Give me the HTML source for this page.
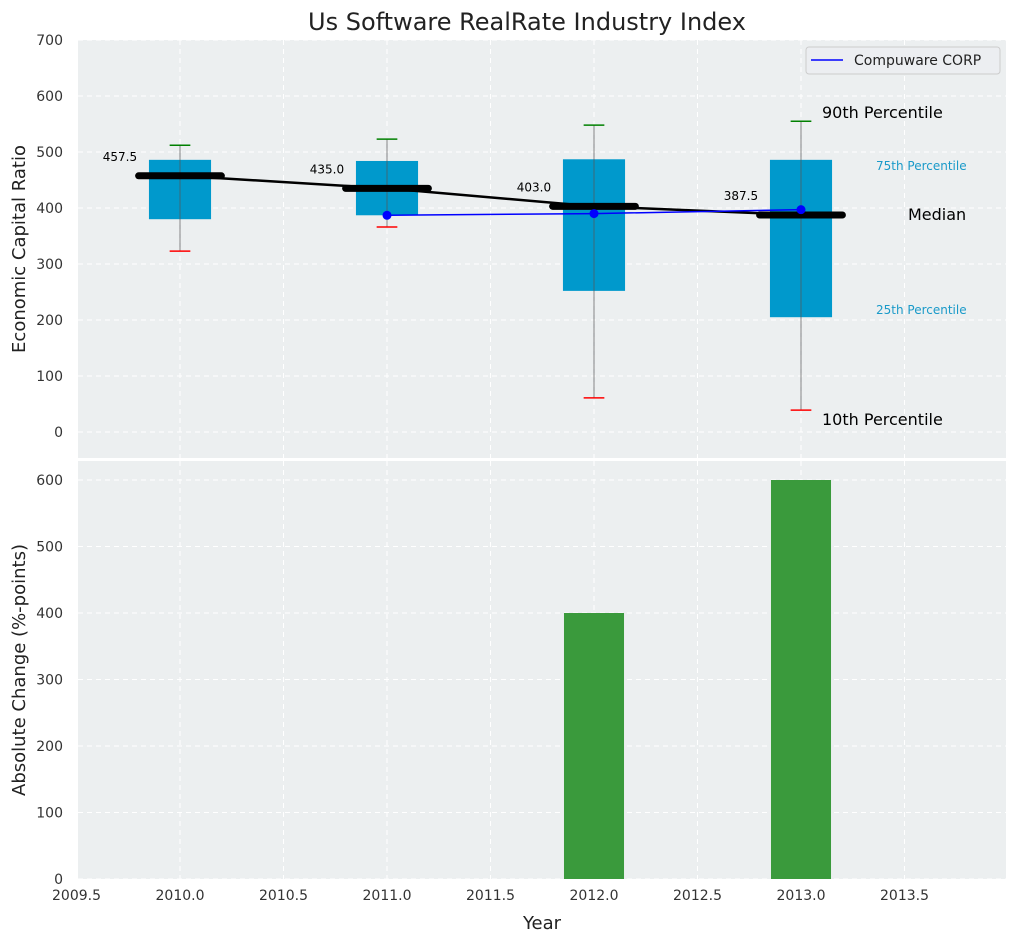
<!DOCTYPE html>
<html><head><meta charset="utf-8"><style>
body{margin:0;background:#fff;font-family:"DejaVu Sans","Liberation Sans",sans-serif}
svg text{font-family:"DejaVu Sans","Liberation Sans",sans-serif}
</style></head><body>
<svg id="c" width="1016" height="942" xmlns="http://www.w3.org/2000/svg"></svg>
<script>
const years=[2010,2011,2012,2013];
const p10=[323,366,61,39];
const p25=[380,387,252,205];
const median=[457.5,435,403,387.5];
const p75=[486,484,487,486];
const p90=[512,523,548,555];
const compYears=[2011,2012,2013];
const compVals=[387,390,397];
const barYears=[2012,2013];
const barVals=[400,600];
const xTicks=[2009.5,2010,2010.5,2011,2011.5,2012,2012.5,2013,2013.5];
const yTopTicks=[0,100,200,300,400,500,600,700];
const yBotTicks=[0,100,200,300,400,500,600];

const svg=document.getElementById('c');const NS='http://www.w3.org/2000/svg';
function el(t,a,p){const e=document.createElementNS(NS,t);for(const k in a)e.setAttribute(k,a[k]);(p||svg).appendChild(e);return e;}
const X=v=>76.5+(v-2009.5)*207;
const YT=v=>432-v*0.56;
const YB=v=>879-v*0.665;
const L=78,R=1006;
// panels
let bg1=el('rect',{x:L,y:40,width:R-L,height:418,fill:'#ECEFF0'});


let bg2=el('rect',{x:L,y:461,width:R-L,height:418,fill:'#ECEFF0'});


// grids
xTicks.forEach(t=>{if(t<2009.6)return;el('line',{x1:X(t),x2:X(t),y1:40,y2:458,stroke:'#fff','stroke-dasharray':'5,4'});el('line',{x1:X(t),x2:X(t),y1:461,y2:879,stroke:'#fff','stroke-dasharray':'5,4'});});
yTopTicks.forEach(t=>{el('line',{x1:L,x2:R,y1:YT(t),y2:YT(t),stroke:'#fff','stroke-dasharray':'5,4'});
 let tx=el('text',{x:63,y:YT(t)+5,'text-anchor':'end','font-size':14,fill:'#333'});tx.textContent=t;
 
 });
yBotTicks.forEach(t=>{el('line',{x1:L,x2:R,y1:YB(t),y2:YB(t),stroke:'#fff','stroke-dasharray':'5,4'});
 let tx=el('text',{x:63,y:YB(t)+5,'text-anchor':'end','font-size':14,fill:'#333'});tx.textContent=t;
 
 });
xTicks.forEach(t=>{let tx=el('text',{x:X(t),y:900,'text-anchor':'middle','font-size':14,fill:'#333'});tx.textContent=t.toFixed(1);
 
 });
// boxes
years.forEach((y,i)=>{
 const g=el('g',{});
 
 
 el('rect',{x:X(y-0.15),y:YT(p75[i]),width:X(y+0.15)-X(y-0.15),height:YT(p25[i])-YT(p75[i]),fill:'#0099CC'},g);
 el('line',{x1:X(y),x2:X(y),y1:YT(p90[i]),y2:YT(p10[i]),stroke:'#555','stroke-width':1,opacity:0.7},g);
 el('line',{x1:X(y-0.05),x2:X(y+0.05),y1:YT(p90[i]),y2:YT(p90[i]),stroke:'green','stroke-width':1.5},g);
 el('line',{x1:X(y-0.05),x2:X(y+0.05),y1:YT(p10[i]),y2:YT(p10[i]),stroke:'red','stroke-width':1.5},g);
});
// median connecting line
let mp=el('polyline',{points:years.map((y,i)=>X(y)+','+YT(median[i])).join(' '),fill:'none',stroke:'#000','stroke-width':2.5});


years.forEach((y,i)=>{
 let m=el('line',{x1:X(y-0.2),x2:X(y+0.2),y1:YT(median[i]),y2:YT(median[i]),stroke:'#000','stroke-width':7,'stroke-linecap':'round'});
 
 
 let t=el('text',{x:X(y-0.29),y:YT(median[i])-15,'text-anchor':'middle','font-size':12,fill:'#000'});t.textContent=median[i].toFixed(1);
 
 
});
// compuware
let cl=el('polyline',{points:compYears.map((y,i)=>X(y)+','+YT(compVals[i])).join(' '),fill:'none',stroke:'blue','stroke-width':1.5});


compYears.forEach((y,i)=>{let c=el('circle',{cx:X(y),cy:YT(compVals[i]),r:4.5,fill:'blue'});
 
 });
// annotations
const ann=[['90th Percentile',822,118,16,'#000'],['75th Percentile',876,170,12,'#1a9ac9'],['Median',908,220,16,'#000'],['25th Percentile',876,314,12,'#1a9ac9'],['10th Percentile',822,425,16,'#000']];
ann.forEach(a=>{let t=el('text',{x:a[1],y:a[2],'font-size':a[3],fill:a[4]});t.textContent=a[0];
 
 });
// bars
barYears.forEach((y,i)=>{let b=el('rect',{x:X(y-0.145),y:YB(barVals[i]),width:X(y+0.145)-X(y-0.145),height:YB(0)-YB(barVals[i]),fill:'#3A9A3C'});
 
 });
// legend
const lg=el('g',{});


el('rect',{x:806,y:47,width:194,height:27,rx:3,fill:'#ECEEF1',stroke:'#ccc'},lg);
el('line',{x1:811,x2:843,y1:60,y2:60,stroke:'blue','stroke-width':1.5},lg);
let lt=el('text',{x:854,y:65,'font-size':14,fill:'#222'},lg);lt.textContent='Compuware CORP';
// titles
let ti=el('text',{x:527,y:30,'text-anchor':'middle','font-size':24,fill:'#222'});ti.textContent='Us Software RealRate Industry Index';


let yt=el('text',{x:25,y:249,'text-anchor':'middle','font-size':18,fill:'#222',transform:'rotate(-90 25 249)'});yt.textContent='Economic Capital Ratio';


let yb=el('text',{x:25,y:670,'text-anchor':'middle','font-size':18,fill:'#222',transform:'rotate(-90 25 670)'});yb.textContent='Absolute Change (%-points)';


let xt=el('text',{x:542,y:929,'text-anchor':'middle','font-size':18,fill:'#222'});xt.textContent='Year';


</script>
</body></html>
